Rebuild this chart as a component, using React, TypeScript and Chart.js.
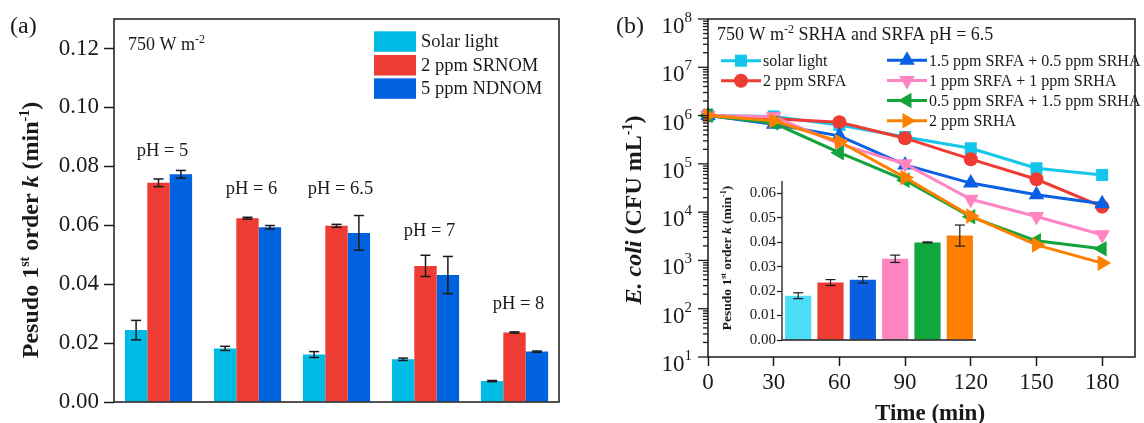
import React, { useEffect, useRef } from 'react';
import { Chart, registerables } from 'chart.js';

Chart.register(...registerables);

const SERIF = '"Liberation Serif", "Times New Roman", Times, serif';
const INK = '#1a1a1a';

// ---------------- Panel (a) data ----------------
const phCategories = ['pH = 5', 'pH = 6', 'pH = 6.5', 'pH = 7', 'pH = 8'];
const phLabelValues = [0.0856, 0.0727, 0.0727, 0.0584, 0.0336];
const solarLightK = [0.0244, 0.0182, 0.0161, 0.0145, 0.0071];
const solarLightErr = [0.0033, 0.0007, 0.001, 0.0004, 0.0002];
const srnomK = [0.0744, 0.0624, 0.0598, 0.0462, 0.0236];
const srnomErr = [0.0013, 0.0003, 0.0005, 0.0036, 0.0002];
const ndnomK = [0.0773, 0.0593, 0.0574, 0.0431, 0.0171];
const ndnomErr = [0.0013, 0.0006, 0.0059, 0.0063, 0.0002];
const aSeriesLabels = ['Solar light', '2 ppm SRNOM', '5 ppm NDNOM'];
const aColors = ['#00BCE4', '#EE3B33', '#0062DF'];

// ---------------- Panel (b) data ----------------
const timeMin = [0, 30, 60, 90, 120, 150, 180];
const solarLightCFU = [1.0e6, 9.6e5, 6.4e5, 3.6e5, 2.1e5, 8.1e4, 5.9e4];
const srfa2CFU = [1.0e6, 8.6e5, 7.3e5, 3.4e5, 1.25e5, 4.8e4, 1.3e4];
const srfa15srha05CFU = [1.0e6, 6.6e5, 3.8e5, 9.5e4, 4.0e4, 2.3e4, 1.5e4];
const srfa1srha1CFU = [1.0e6, 9.5e5, 2.6e5, 1.0e5, 1.85e4, 8.1e3, 3.4e3];
const srfa05srha15CFU = [1.0e6, 7.0e5, 1.7e5, 4.6e4, 8.0e3, 2.55e3, 1.74e3];
const srha2CFU = [1.0e6, 7.8e5, 2.9e5, 5.2e4, 8.3e3, 2.1e3, 8.8e2];
const bSeriesLabels = [
  'solar light',
  '2 ppm SRFA',
  '1.5 ppm SRFA + 0.5 ppm SRHA',
  '1 ppm SRFA + 1 ppm SRHA',
  '0.5 ppm SRFA + 1.5 ppm SRHA',
  '2 ppm SRHA',
];
const bSeriesValues = [solarLightCFU, srfa2CFU, srfa15srha05CFU, srfa1srha1CFU, srfa05srha15CFU, srha2CFU];
const bColors = ['#14C6EA', '#EE3B33', '#0A5FE3', '#FF84C2', '#12A43A', '#FF8000'];
const bMarkers = [
  { style: 'rect', rot: 0, r: 8.5 },
  { style: 'circle', rot: 0, r: 7 },
  { style: 'triangle', rot: 0, r: 9 },
  { style: 'triangle', rot: 180, r: 9 },
  { style: 'triangle', rot: 270, r: 9 },
  { style: 'triangle', rot: 90, r: 9 },
];
const logTickExponents = [1, 2, 3, 4, 5, 6, 7, 8];

// ---------------- Inset data ----------------
const insetK = [0.0181, 0.0235, 0.0246, 0.0332, 0.0399, 0.0427];
const insetErr = [0.0012, 0.0012, 0.0013, 0.0015, 0.0002, 0.0043];
const insetColors = ['#4CDDF6', '#EE3B33', '#0A5FE0', '#FF85C0', '#10A83C', '#FF7F00'];

// ---------------- helpers ----------------
type Seg = { t: string; size: number; bold?: boolean; italic?: boolean; rise?: number };
const segFont = (s: Seg) => `${s.italic ? 'italic ' : ''}${s.bold ? 'bold ' : ''}${s.size}px ${SERIF}`;
function segsWidth(ctx: CanvasRenderingContext2D, segs: Seg[]) {
  let w = 0;
  for (const s of segs) {
    ctx.font = segFont(s);
    w += ctx.measureText(s.t).width;
  }
  return w;
}
function drawSegs(ctx: CanvasRenderingContext2D, segs: Seg[], x: number, y: number, align: 'left' | 'center' | 'right') {
  const w = segsWidth(ctx, segs);
  let cx = align === 'left' ? x : align === 'center' ? x - w / 2 : x - w;
  ctx.textAlign = 'left';
  ctx.textBaseline = 'alphabetic';
  ctx.fillStyle = INK;
  for (const s of segs) {
    ctx.font = segFont(s);
    ctx.fillText(s.t, cx, y - (s.rise || 0));
    cx += ctx.measureText(s.t).width;
  }
}
function drawRotated(ctx: CanvasRenderingContext2D, segs: Seg[], cx: number, cy: number, size: number) {
  ctx.save();
  ctx.translate(cx, cy);
  ctx.rotate(-Math.PI / 2);
  drawSegs(ctx, segs, 0, size * 0.33, 'center');
  ctx.restore();
}
function line(ctx: CanvasRenderingContext2D, x1: number, y1: number, x2: number, y2: number) {
  ctx.beginPath();
  ctx.moveTo(x1, y1);
  ctx.lineTo(x2, y2);
  ctx.stroke();
}
function drawMarker(ctx: CanvasRenderingContext2D, style: string, rotDeg: number, r: number, x: number, y: number, color: string) {
  ctx.save();
  ctx.fillStyle = color;
  ctx.beginPath();
  if (style === 'circle') {
    ctx.arc(x, y, r, 0, Math.PI * 2);
  } else if (style === 'rect') {
    const s = Math.SQRT1_2 * r;
    ctx.rect(x - s, y - s, 2 * s, 2 * s);
  } else {
    let rad = (rotDeg * Math.PI) / 180;
    ctx.moveTo(x + Math.sin(rad) * r, y - Math.cos(rad) * r);
    rad += (2 * Math.PI) / 3;
    ctx.lineTo(x + Math.sin(rad) * r, y - Math.cos(rad) * r);
    rad += (2 * Math.PI) / 3;
    ctx.lineTo(x + Math.sin(rad) * r, y - Math.cos(rad) * r);
    ctx.closePath();
  }
  ctx.fill();
  ctx.restore();
}

const errorBarPlugin = {
  id: 'errorBars',
  afterDatasetsDraw(chart: any, _args: any, opts: any) {
    const ctx = chart.ctx as CanvasRenderingContext2D;
    const y = chart.scales.y;
    const cap = opts.cap || 5;
    ctx.save();
    ctx.strokeStyle = INK;
    ctx.lineWidth = opts.width || 1.5;
    chart.data.datasets.forEach((ds: any, i: number) => {
      const meta = chart.getDatasetMeta(i);
      meta.data.forEach((bar: any, j: number) => {
        const v = ds.data[j];
        const e = ds.errors[j];
        const top = y.getPixelForValue(v + e);
        const bot = y.getPixelForValue(v - e);
        line(ctx, bar.x, top, bar.x, bot);
        line(ctx, bar.x - cap, top, bar.x + cap, top);
        line(ctx, bar.x - cap, bot, bar.x + cap, bot);
      });
    });
    ctx.restore();
  },
};

// ---------------- Panel (a) config ----------------
function configA(): any {
  const vals = [solarLightK, srnomK, ndnomK];
  const errs = [solarLightErr, srnomErr, ndnomErr];
  const decorA = {
    id: 'decorA',
    afterDraw(chart: any) {
      const ctx = chart.ctx as CanvasRenderingContext2D;
      const { left, right, top, bottom } = chart.chartArea;
      ctx.save();
      ctx.strokeStyle = INK;
      ctx.lineWidth = 1.5;
      ctx.strokeRect(left, top, right - left, bottom - top);
      // panel letter
      drawSegs(ctx, [{ t: '(a)', size: 24 }], 10, 33, 'left');
      // condition
      drawSegs(ctx, [{ t: '750 W m', size: 18 }, { t: '-2', size: 12, rise: 7 }], 128, 50, 'left');
      // pH labels
      const xs = chart.scales.x;
      const ys = chart.scales.y;
      phCategories.forEach((lab, i) => {
        const px = xs.getPixelForValue(i) + 4;
        const py = ys.getPixelForValue(phLabelValues[i]);
        drawSegs(ctx, [{ t: lab, size: 18.5 }], px, py + 6, 'center');
      });
      // legend
      const rows = [41.3, 65, 88.3];
      aSeriesLabels.forEach((lab, i) => {
        ctx.fillStyle = aColors[i];
        ctx.fillRect(374, rows[i] - 10, 42, 20.5);
        drawSegs(ctx, [{ t: lab, size: 18.5 }], 421, rows[i] + 6, 'left');
      });
      // y title
      drawRotated(
        ctx,
        [
          { t: 'Pesudo 1', size: 24, bold: true },
          { t: 'st', size: 14, bold: true, rise: 9 },
          { t: ' order ', size: 24, bold: true },
          { t: 'k', size: 24, bold: true, italic: true },
          { t: ' (min', size: 24, bold: true },
          { t: '-1', size: 14, bold: true, rise: 9 },
          { t: ')', size: 24, bold: true },
        ],
        30,
        230,
        24
      );
      ctx.restore();
    },
  };
  return {
    type: 'bar',
    data: {
      labels: phCategories,
      datasets: aSeriesLabels.map((lab, i) => ({
        label: lab,
        data: vals[i],
        errors: errs[i],
        backgroundColor: aColors[i],
        borderWidth: 0,
        categoryPercentage: 0.755,
        barPercentage: 1,
      })),
    },
    options: {
      responsive: false,
      animation: false,
      devicePixelRatio: 1,
      layout: { padding: { left: 0, top: 19, right: 21, bottom: 0 } },
      plugins: { legend: { display: false }, tooltip: { enabled: false }, errorBars: { cap: 5, width: 1.5 } },
      scales: {
        x: {
          type: 'category',
          grid: { display: false },
          border: { display: false },
          ticks: { display: false },
          afterFit: (s: any) => {
            s.height = 21;
          },
        },
        y: {
          min: 0,
          max: 0.13,
          border: { display: false },
          ticks: {
            stepSize: 0.02,
            includeBounds: false,
            callback: (v: number) => v.toFixed(2),
            font: { family: SERIF, size: 23 },
            color: INK,
            padding: 5,
          },
          grid: { drawOnChartArea: false, drawTicks: true, tickLength: 10, tickColor: INK, tickWidth: 1.5 },
          afterFit: (s: any) => {
            s.width = 114;
          },
        },
      },
    },
    plugins: [errorBarPlugin, decorA],
  };
}

// ---------------- Panel (b) config ----------------
function configB(): any {
  const decorB = {
    id: 'decorB',
    afterDraw(chart: any) {
      const ctx = chart.ctx as CanvasRenderingContext2D;
      const { left, right, top, bottom } = chart.chartArea;
      const ys = chart.scales.y;
      ctx.save();
      ctx.strokeStyle = INK;
      ctx.lineWidth = 1.5;
      ctx.strokeRect(left, top, right - left, bottom - top);
      // log ticks
      ctx.lineWidth = 1.3;
      logTickExponents.forEach((e) => {
        const py = ys.getPixelForValue(Math.pow(10, e));
        line(ctx, left - 10, py, left, py);
        if (e < logTickExponents[logTickExponents.length - 1]) {
          for (let m = 2; m <= 9; m++) {
            const pm = ys.getPixelForValue(m * Math.pow(10, e));
            line(ctx, left - 5, pm, left, pm);
          }
        }
        drawSegs(
          ctx,
          [
            { t: '10', size: 23 },
            { t: String(e), size: 15, rise: 11 },
          ],
          left - 16,
          py + 14,
          'right'
        );
      });
      // panel letter
      drawSegs(ctx, [{ t: '(b)', size: 24 }], 36, 33, 'left');
      // condition title
      drawSegs(
        ctx,
        [
          { t: '750 W m', size: 18 },
          { t: '-2', size: 12, rise: 7 },
          { t: ' SRHA and SRFA pH = 6.5', size: 18 },
        ],
        137,
        40,
        'left'
      );
      // legend
      const cols = [{ x: 141, rows: [60.7, 80.7] }, { x: 307, rows: [60.3, 80.5, 100.5, 120.7] }];
      let k = 0;
      cols.forEach((c) => {
        c.rows.forEach((ry) => {
          const i = k++;
          ctx.strokeStyle = bColors[i];
          ctx.lineWidth = 3;
          line(ctx, c.x, ry, c.x + 40, ry);
          drawMarker(ctx, bMarkers[i].style, bMarkers[i].rot, bMarkers[i].r, c.x + 20, ry, bColors[i]);
          drawSegs(ctx, [{ t: bSeriesLabels[i], size: 16 }], c.x + 42, ry + 5.5, 'left');
        });
      });
      // axis titles
      drawSegs(ctx, [{ t: 'Time (min)', size: 23, bold: true }], 350, 420, 'center');
      drawRotated(
        ctx,
        [
          { t: 'E. coli', size: 24, bold: true, italic: true },
          { t: ' (CFU mL', size: 24, bold: true },
          { t: '-1', size: 14, bold: true, rise: 9 },
          { t: ')', size: 24, bold: true },
        ],
        53,
        210,
        24
      );
      ctx.restore();
    },
  };
  return {
    type: 'line',
    data: {
      datasets: bSeriesLabels.map((lab, i) => ({
        label: lab,
        data: timeMin.map((t, j) => ({ x: t, y: bSeriesValues[i][j] })),
        borderColor: bColors[i],
        backgroundColor: bColors[i],
        pointBackgroundColor: bColors[i],
        pointBorderColor: bColors[i],
        pointStyle: bMarkers[i].style,
        pointRotation: bMarkers[i].rot,
        pointRadius: bMarkers[i].r,
        pointBorderWidth: 0,
        borderWidth: 3,
        tension: 0,
        clip: false,
        order: bSeriesLabels.length - i,
      })),
    },
    options: {
      responsive: false,
      animation: false,
      devicePixelRatio: 1,
      layout: { padding: { left: 0, top: 19, right: 2, bottom: 0 } },
      plugins: { legend: { display: false }, tooltip: { enabled: false } },
      scales: {
        x: {
          type: 'linear',
          min: 0,
          max: 195,
          border: { display: false },
          ticks: {
            stepSize: 30,
            includeBounds: false,
            font: { family: SERIF, size: 23 },
            color: INK,
            padding: 3,
            maxRotation: 0,
          },
          grid: { drawOnChartArea: false, drawTicks: true, tickLength: 9, tickColor: INK, tickWidth: 1.5 },
          afterFit: (s: any) => {
            s.height = 66;
          },
        },
        y: {
          type: 'logarithmic',
          min: 10,
          max: 1e8,
          border: { display: false },
          ticks: { display: false },
          grid: { display: false },
          afterFit: (s: any) => {
            s.width = 128;
          },
        },
      },
    },
    plugins: [decorB],
  };
}

// ---------------- Inset config ----------------
function configC(): any {
  const decorC = {
    id: 'decorC',
    afterDraw(chart: any) {
      const ctx = chart.ctx as CanvasRenderingContext2D;
      const { left, right, top, bottom } = chart.chartArea;
      ctx.save();
      ctx.strokeStyle = INK;
      ctx.lineWidth = 1.3;
      line(ctx, left, top, left, bottom);
      line(ctx, left, bottom, right, bottom);
      drawRotated(
        ctx,
        [
          { t: 'Pesudo 1', size: 13.5, bold: true },
          { t: 'st', size: 8, bold: true, rise: 5 },
          { t: ' order ', size: 13.5, bold: true },
          { t: 'k', size: 13.5, bold: true, italic: true },
          { t: ' (min', size: 13.5, bold: true },
          { t: '-1', size: 8, bold: true, rise: 5 },
          { t: ')', size: 13.5, bold: true },
        ],
        27,
        88,
        13.5
      );
      ctx.restore();
    },
  };
  return {
    type: 'bar',
    data: {
      labels: bSeriesLabels,
      datasets: [
        {
          label: 'k',
          data: insetK,
          errors: insetErr,
          backgroundColor: insetColors,
          borderWidth: 0,
          categoryPercentage: 1,
          barPercentage: 0.81,
        },
      ],
    },
    options: {
      responsive: false,
      animation: false,
      devicePixelRatio: 1,
      layout: { padding: { left: 0, top: 11, right: 4, bottom: 0 } },
      plugins: { legend: { display: false }, tooltip: { enabled: false }, errorBars: { cap: 5, width: 1.2 } },
      scales: {
        x: {
          type: 'category',
          grid: { display: false },
          border: { display: false },
          ticks: { display: false },
          afterFit: (s: any) => {
            s.height = 4;
          },
        },
        y: {
          min: 0,
          max: 0.065,
          border: { display: false },
          ticks: {
            stepSize: 0.01,
            includeBounds: false,
            callback: (v: number) => v.toFixed(2),
            font: { family: SERIF, size: 15 },
            color: INK,
            padding: 1,
          },
          grid: { drawOnChartArea: false, drawTicks: true, tickLength: 5, tickColor: INK, tickWidth: 1.2 },
          afterFit: (s: any) => {
            s.width = 82;
          },
        },
      },
    },
    plugins: [errorBarPlugin, decorC],
  };
}

export default function App() {
  const aRef = useRef<HTMLCanvasElement>(null);
  const bRef = useRef<HTMLCanvasElement>(null);
  const cRef = useRef<HTMLCanvasElement>(null);
  useEffect(() => {
    const a = new Chart(aRef.current as HTMLCanvasElement, configA());
    const b = new Chart(bRef.current as HTMLCanvasElement, configB());
    const c = new Chart(cRef.current as HTMLCanvasElement, configC());
    return () => {
      a.destroy();
      b.destroy();
      c.destroy();
    };
  }, []);
  return (
    <div style={{ position: 'absolute', left: 0, top: 0, width: 1144, height: 423, background: '#ffffff', overflow: 'hidden' }}>
      <canvas ref={aRef} width={580} height={423} style={{ position: 'absolute', left: 0, top: 0, width: 580, height: 423 }} />
      <canvas ref={bRef} width={564} height={423} style={{ position: 'absolute', left: 580, top: 0, width: 564, height: 423 }} />
      <canvas ref={cRef} width={280} height={180} style={{ position: 'absolute', left: 700, top: 170, width: 280, height: 180 }} />
    </div>
  );
}
